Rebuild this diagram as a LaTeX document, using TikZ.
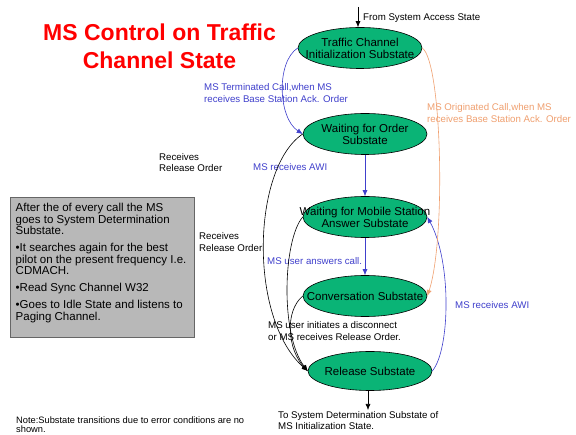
\documentclass[tikz,border=0pt]{standalone}
\usepackage{fontspec}
\setmainfont{Liberation Sans}
\usetikzlibrary{shapes.geometric,arrows.meta}
\definecolor{stgreen}{RGB}{10,180,118}
\definecolor{lblue}{RGB}{64,64,204}
\definecolor{lorange}{RGB}{240,160,112}
\definecolor{boxgray}{RGB}{184,184,184}
\tikzset{
  stnode/.style={ellipse,draw=black,line width=0.6pt,fill=stgreen,minimum width=124pt,minimum height=41pt,inner sep=0pt},
  sttext/.style={font=\fontsize{11.5}{12}\selectfont,align=center,inner sep=0pt},
  lbl/.style={font=\fontsize{9.7}{11.5}\selectfont,align=left,inner sep=0pt,anchor=west},
  tip/.style={-{Latex[length=6pt,width=5pt]}},
  bluearrow/.style={tip,draw=lblue,line width=0.6pt},
  orangearrow/.style={tip,draw=lorange,line width=0.6pt},
  blackarrow/.style={tip,draw=black,line width=0.6pt},
}
\begin{document}
\begin{tikzpicture}[x=1pt,y=-1pt]
\useasboundingbox (0,0) rectangle (576,435);
\fill[white] (0,0) rectangle (576,435);

% title
\node[font=\bfseries\fontsize{23}{28}\selectfont,text=red,align=center,inner sep=0pt] (title) at (159.5,46) {MS Control on Traffic\\Channel State};

% states
\node[stnode] (init) at (360,48) {};
\node[sttext] at (init) {Traffic Channel\\Initialization Substate};
\node[stnode] (order) at (365,134) {};
\node[sttext] at (order) {Waiting for Order\\Substate};
\node[stnode] (wms) at (365,217) {};
\node[sttext] at (wms) {Waiting for Mobile Station\\Answer Substate};
\node[stnode] (conv) at (365,296) {};
\node[sttext] at (conv) {Conversation Substate};
\node[stnode,minimum height=39pt] (rel) at (370,371) {};
\node[sttext] at (rel) {Release Substate};

% entry / exit
\coordinate (entry) at (358,7);
\draw[blackarrow] (entry) -- (init.north -| entry);
\node[lbl] (lentry) at (363,18) {From System Access State};
\coordinate (exit) at (368,410);
\draw[blackarrow] (rel.south -| exit) -- (exit);
\node[lbl] (lexit) at (278,420.5) {To System Determination Substate of\\MS Initialization State.};

% blue connectors
\draw[bluearrow] (init.west) .. controls (276,62) and (278,118) .. (order.west);
\node[lbl,text=lblue] (lterm) at (204,93) {MS Terminated Call,when MS\\receives Base Station Ack. Order};
\draw[bluearrow] (order.south) -- (wms.north);
\node[lbl,text=lblue] (lawi1) at (253,167) {MS receives AWI};
\draw[bluearrow] (wms.south) -- (conv.north);
\node[lbl,text=lblue] (lans) at (267,261) {MS user answers call.};
\draw[bluearrow] (rel.east) .. controls (450,350) and (452,262) .. (wms.east);
\node[lbl,text=lblue] (lawi2) at (455,305) {MS receives AWI};

% orange connector
\draw[orangearrow] (init.east) .. controls (442,62) and (446,240) .. (conv.east);
\node[lbl,text=lorange] (lorig) at (427,113) {MS Originated Call,when MS\\receives Base Station Ack. Order};

% black connectors to release
\draw[blackarrow] (order.west) .. controls (252,168) and (248,318) .. (rel.west);
\draw[blackarrow] (wms.west) .. controls (283,240) and (280,335) .. (rel.west);
\draw[blackarrow] (conv.west) .. controls (284,312) and (288,350) .. (rel.west);
\node[lbl] (lrel1) at (159,162.5) {Receives\\Release Order};
\node[lbl] (lrel2) at (199,242) {Receives\\Release Order};
\node[lbl] (ldisc) at (268,331) {MS user initiates a disconnect\\or MS receives Release Order.};

% gray note box
\node[draw=gray!80!black,line width=0.4pt,fill=boxgray,minimum width=184pt,minimum height=140pt,anchor=north west,inner sep=0pt] (box) at (10,197) {};
\node[font=\fontsize{11.5}{11.5}\selectfont,align=left,anchor=north west,inner sep=0pt] (boxtext) at (15.5,203) {After the of every call the MS\\goes to System Determination\\Substate.\\[5.5pt]•It searches again for the best\\pilot on the present frequency I.e.\\CDMACH.\\[5.5pt]•Read Sync Channel W32\\[5.5pt]•Goes to Idle State and listens to\\Paging Channel.};

% note
\node[font=\fontsize{9.3}{9.5}\selectfont,align=left,anchor=west,inner sep=0pt] (note) at (16,424.5) {Note:Substate transitions due to error conditions are no\\shown.};
\end{tikzpicture}
\end{document}
